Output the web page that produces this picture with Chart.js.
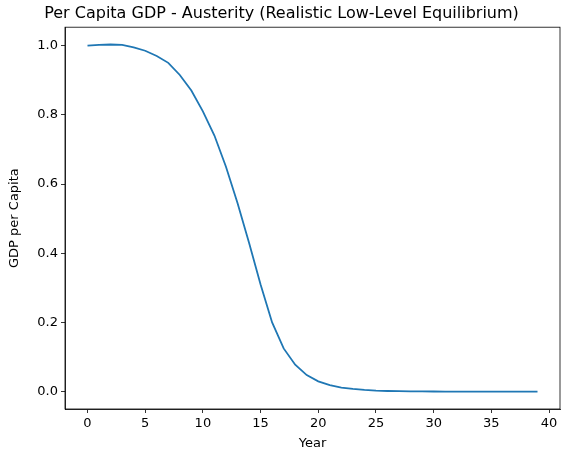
<!DOCTYPE html>
<html>
<head>
<meta charset="utf-8">
<script src="https://cdn.jsdelivr.net/npm/chart.js@4"></script>
<style>
  html, body { margin: 0; padding: 0; background: #fff; }
  #wrap { width: 567px; height: 455px; }
</style>
</head>
<body>
<div id="wrap"><canvas id="c"></canvas></div>
<script>
// ===== Per capita GDP under austerity =====
const years = Array.from({ length: 40 }, (_, i) => i);
const gdpPerCapita = [
    1.000, 1.002, 1.003, 1.002, 0.995, 0.985, 0.970, 0.950, 0.915, 0.870,
    0.810, 0.740, 0.650, 0.545, 0.430, 0.310, 0.200, 0.125, 0.078, 0.048,
    0.030, 0.019, 0.012, 0.008, 0.005, 0.003, 0.002, 0.0015, 0.001, 0.0008,
    0.0006, 0.0004, 0.0003, 0.0002, 0.0002, 0.0001, 0.0001, 0.0001, 0.0001, 0.0001
];
const xTicks = [0, 5, 10, 15, 20, 25, 30, 35, 40];
const yTicks = [0.0, 0.2, 0.4, 0.6, 0.8, 1.0];

const font = { family: 'DejaVu Sans', size: 13 };
const tickOpts = { color: '#000', font, padding: 3 };
const gridOpts = { display: true, drawOnChartArea: false, tickLength: 4, color: '#000', tickWidth: 0.8 };

const frame = {
    id: 'frame',
    afterDraw(chart) {
        const { ctx, chartArea: a } = chart;
        ctx.save();
        ctx.strokeStyle = '#000';
        ctx.lineWidth = 0.8;
        ctx.strokeRect(a.left, a.top, a.right - a.left, a.bottom - a.top);
        ctx.restore();
    }
};

new Chart(document.getElementById('c'), {
    type: 'line',
    data: {
        datasets: [{
            data: years.map((x, i) => ({ x, y: gdpPerCapita[i] })),
            borderColor: '#1f77b4', borderWidth: 1.8, pointRadius: 0, tension: 0
        }]
    },
    options: {
        responsive: true, maintainAspectRatio: false, animation: false,
        layout: { padding: { left: 3, right: 7, top: 0, bottom: 0 } },
        plugins: {
            legend: { display: false }, tooltip: { enabled: false },
            title: { display: true, text: 'Per Capita GDP - Austerity (Realistic Low-Level Equilibrium)',
                color: '#000', font: { family: 'DejaVu Sans', size: 16, weight: 'normal' }, padding: { top: 4, bottom: 4 } }
        },
        scales: {
            x: {
                type: 'linear', min: -1.95, max: 40.95,
                afterBuildTicks: s => { s.ticks = xTicks.map(v => ({ value: v })); },
                afterFit: s => { s.height = 46; },
                ticks: { ...tickOpts, callback: v => String(v) },
                grid: gridOpts, border: { color: '#000', width: 0.8 },
                title: { display: true, text: 'Year', color: '#000', font, padding: { top: 0 } }
            },
            y: {
                min: -0.05, max: 1.053,
                afterBuildTicks: s => { s.ticks = yTicks.map(v => ({ value: v })); },
                afterFit: s => { s.width = 62; },
                ticks: { ...tickOpts, callback: v => v.toFixed(1) },
                grid: gridOpts, border: { color: '#000', width: 0.8 },
                title: { display: true, text: 'GDP per Capita', color: '#000', font, padding: { bottom: 4 } }
            }
        }
    },
    plugins: [frame]
});
</script>
</body>
</html>
